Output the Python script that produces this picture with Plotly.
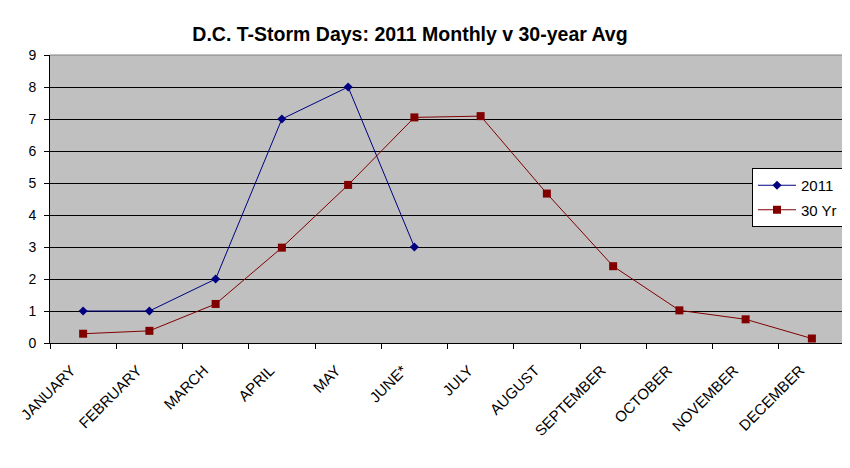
import plotly.graph_objects as go

months = ["JANUARY", "FEBRUARY", "MARCH", "APRIL", "MAY", "JUNE*", "JULY",
          "AUGUST", "SEPTEMBER", "OCTOBER", "NOVEMBER", "DECEMBER"]
y2011 = [1, 1, 2, 7, 8, 3]
y30 = [0.29, 0.38, 1.22, 2.98, 4.94, 7.05, 7.09, 4.67, 2.4, 1.02, 0.74, 0.14]

font = "Liberation Sans, Arial, sans-serif"
pad = "\u00a0" * 4
ticktext = [m + pad for m in months]

fig = go.Figure()
fig.add_trace(go.Scatter(
    x=months[:len(y2011)], y=y2011, name="2011", mode="lines+markers",
    legendgroup="a",
    line=dict(color="#000080", width=1),
    marker=dict(symbol="diamond", size=7, color="#000080"),
))
fig.add_trace(go.Scatter(
    x=months, y=y30, name="30 Yr", mode="lines+markers",
    legendgroup="b",
    line=dict(color="#800000", width=1),
    marker=dict(symbol="square", size=8, color="#800000"),
))

# page has an 8px body margin, so the figure is 842x460 and offset by 8px
fig.update_layout(
    width=842, height=460,
    margin=dict(l=41.5, r=5, t=47, b=125, autoexpand=False),
    paper_bgcolor="white", plot_bgcolor="#C0C0C0",
    font=dict(family=font, size=14, color="black"),
    title=dict(text="<b>D.C. T-Storm Days: 2011 Monthly v 30-year Avg</b>",
               x=402/842, xanchor="center", y=1-26/460, yanchor="middle",
               font=dict(family=font, size=19.5, color="black")),
    showlegend=True,
    legend=dict(x=0.9975, xanchor="right", y=0.6076, yanchor="top",
                bgcolor="white", bordercolor="black", borderwidth=1,
                font=dict(family=font, size=15, color="black"),
                itemwidth=38, tracegroupgap=2),
    xaxis=dict(type="category", categoryorder="array", categoryarray=months,
               tickmode="array", tickvals=months, ticktext=ticktext,
               range=[-0.5, 11.5], tickson="boundaries", ticks="outside",
               ticklen=5, tickcolor="black", showgrid=False,
               showline=True, linecolor="black", linewidth=1,
               tickangle=-45, ticklabelstandoff=0,
               tickfont=dict(family=font, size=15, color="black")),
    yaxis=dict(range=[0, 9], dtick=1, ticks="outside", ticklen=5,
               tickcolor="black", showgrid=True, gridcolor="black",
               gridwidth=1, showline=True, linecolor="black", linewidth=1,
               zeroline=False, ticklabelstandoff=5,
               tickfont=dict(family=font, size=14, color="black")),
)
fig.add_shape(type="line", xref="paper", yref="paper", x0=0, x1=1, y0=1, y1=1,
              line=dict(color="#808080", width=1))
fig.add_shape(type="line", xref="paper", yref="paper", x0=1, x1=1, y0=0, y1=1,
              line=dict(color="#808080", width=1))

fig.write_html("out.html")
